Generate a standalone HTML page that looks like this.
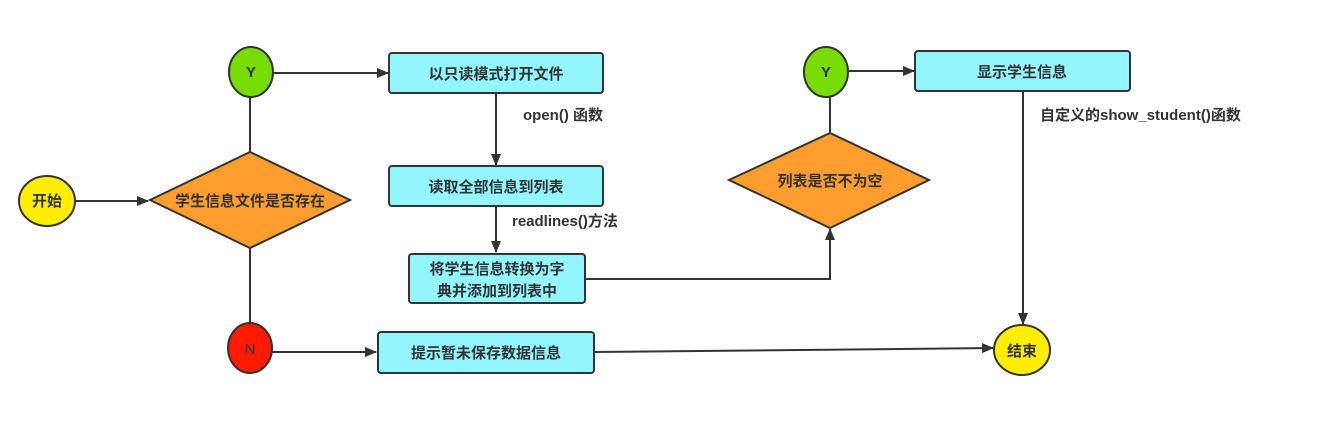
<!DOCTYPE html>
<html><head><meta charset="utf-8"><style>
html,body{margin:0;padding:0;background:#fff;width:1341px;height:442px;overflow:hidden}
text{font-family:"Liberation Sans","Noto Sans CJK SC",sans-serif;font-size:15px;fill:#333;font-weight:bold}
</style></head><body>
<svg width="1341" height="442" viewBox="0 0 1341 442" xmlns="http://www.w3.org/2000/svg">
<defs><marker id="a" markerWidth="12" markerHeight="10" refX="11" refY="5" orient="auto" markerUnits="userSpaceOnUse"><path d="M0,0 L12,5 L0,10 z" fill="#333"/></marker></defs>
<g stroke="#333" stroke-width="2" fill="none">
<line x1="76" y1="201" x2="148" y2="201" marker-end="url(#a)"/>
<line x1="250" y1="152" x2="250" y2="97"/>
<line x1="250" y1="248" x2="250" y2="323"/>
<line x1="273" y1="73" x2="388" y2="73" marker-end="url(#a)"/>
<line x1="272" y1="352" x2="376" y2="352" marker-end="url(#a)"/>
<line x1="496" y1="93" x2="496" y2="165" marker-end="url(#a)"/>
<line x1="496" y1="206" x2="496" y2="252" marker-end="url(#a)"/>
<polyline points="585,279 830,279 830,229" marker-end="url(#a)"/>
<line x1="830" y1="132" x2="830" y2="97"/>
<line x1="849" y1="71" x2="914" y2="71" marker-end="url(#a)"/>
<line x1="1023" y1="91" x2="1023" y2="324" marker-end="url(#a)"/>
<polyline points="594,352 800,350 993,348" marker-end="url(#a)"/>
</g>
<g stroke="#333" stroke-width="2">
<ellipse cx="47" cy="201" rx="28" ry="25" fill="#ffee00"/>
<polygon points="150,200 250,152 350,200 250,248" fill="#ff9e2e"/>
<ellipse cx="251" cy="72" rx="22" ry="25" fill="#77dd00"/>
<ellipse cx="250" cy="348" rx="22" ry="25" fill="#ff1a00"/>
<rect x="389" y="53" width="214" height="40" rx="3" fill="#93f5fd"/>
<rect x="389" y="166" width="214" height="40" rx="3" fill="#93f5fd"/>
<rect x="409" y="254" width="176" height="49" rx="3" fill="#93f5fd"/>
<rect x="378" y="332" width="216" height="41" rx="3" fill="#93f5fd"/>
<ellipse cx="826" cy="72" rx="22" ry="25" fill="#77dd00"/>
<polygon points="729,180 830,133 929,180 830,228" fill="#ff9e2e"/>
<rect x="915" y="51" width="215" height="40" rx="3" fill="#93f5fd"/>
<ellipse cx="1022" cy="350" rx="28" ry="25" fill="#ffee00"/>
</g>
<g text-anchor="middle">
<text x="47" y="206">开始</text>
<text x="250" y="206">学生信息文件是否存在</text>
<text x="251" y="77">Y</text>
<text x="250" y="354" style="font-weight:normal">N</text>
<text x="496" y="79">以只读模式打开文件</text>
<text x="496" y="192">读取全部信息到列表</text>
<text x="497" y="274">将学生信息转换为字</text>
<text x="497" y="296">典并添加到列表中</text>
<text x="486" y="358">提示暂未保存数据信息</text>
<text x="826" y="77">Y</text>
<text x="830" y="186">列表是否不为空</text>
<text x="1022" y="77">显示学生信息</text>
<text x="1022" y="356">结束</text>
</g>
<text x="523" y="120">open() 函数</text>
<text x="512" y="226">readlines()方法</text>
<text x="1040" y="120">自定义的show_student()函数</text>
</svg>
</body></html>
